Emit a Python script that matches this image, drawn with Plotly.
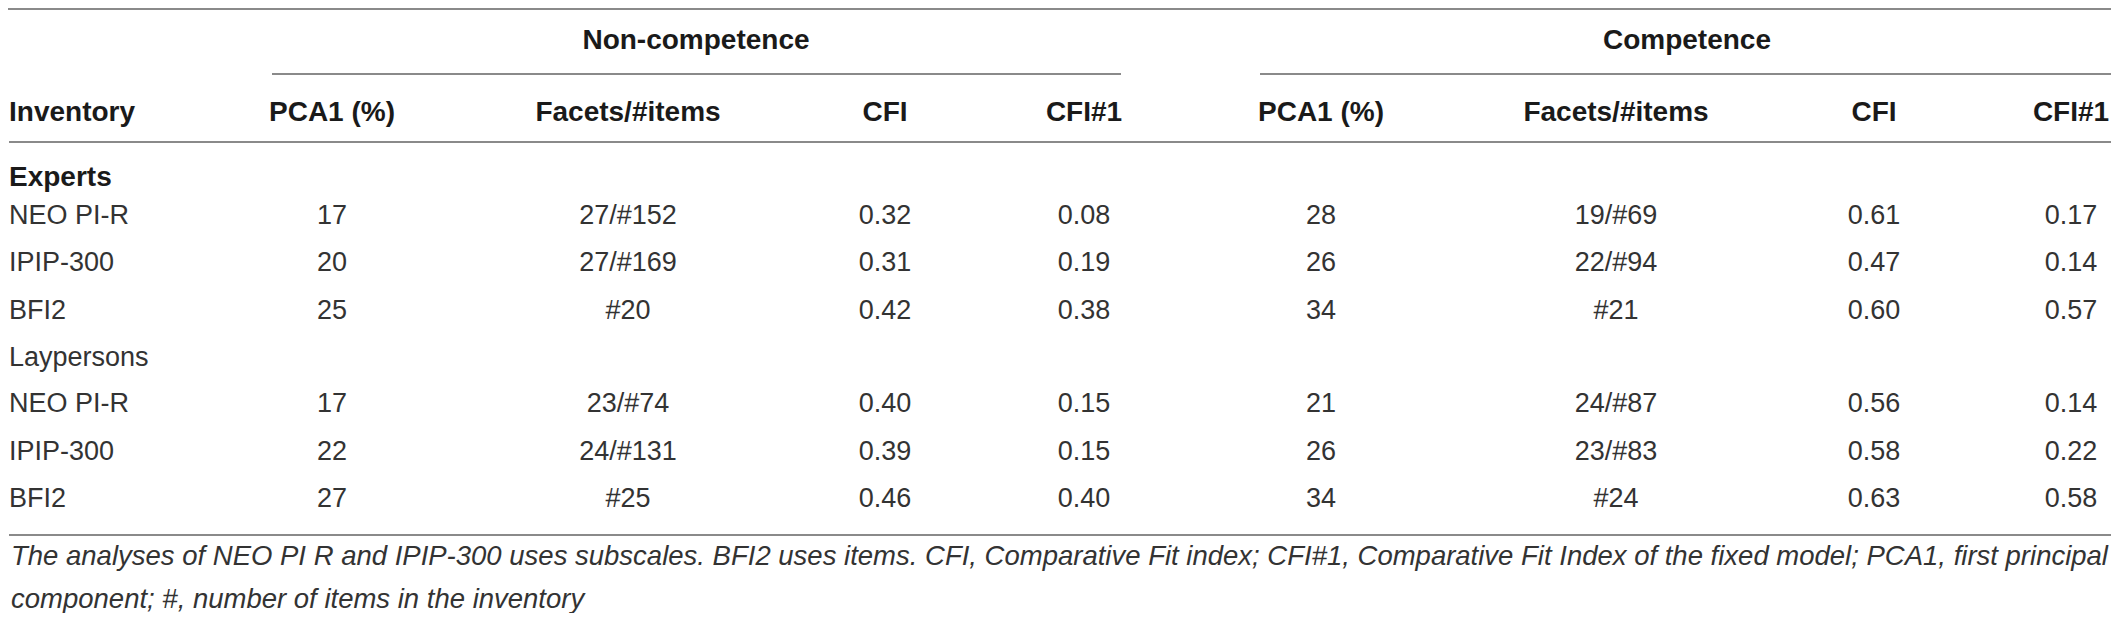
import plotly.graph_objects as go

# table content
groups = ["Experts", "Laypersons"]
inventories = ["NEO PI-R", "IPIP-300", "BFI2"]
col_headers = ["PCA1 (%)", "Facets/#items", "CFI", "CFI#1"]
group_headers = ["Non-competence", "Competence"]

noncomp_pca1 = [17, 20, 25, 17, 22, 27]
noncomp_facets = ["27/#152", "27/#169", "#20", "23/#74", "24/#131", "#25"]
noncomp_cfi = [0.32, 0.31, 0.42, 0.40, 0.39, 0.46]
noncomp_cfi1 = [0.08, 0.19, 0.38, 0.15, 0.15, 0.40]

comp_pca1 = [28, 26, 34, 21, 26, 34]
comp_facets = ["19/#69", "22/#94", "#21", "24/#87", "23/#83", "#24"]
comp_cfi = [0.61, 0.47, 0.60, 0.56, 0.58, 0.63]
comp_cfi1 = [0.17, 0.14, 0.57, 0.14, 0.22, 0.58]

footnote_lines = [
    "The analyses of NEO PI R and IPIP-300 uses subscales. BFI2 uses items. "
    "CFI, Comparative Fit index; CFI#1, Comparative Fit Index of the fixed model; "
    "PCA1, first principal",
    "component; #, number of items in the inventory",
]

# layout, in page pixels (the page body has an 8px margin)
W, H = 2119, 621
PAD = 8
col_x = [332, 628, 885, 1084, 1321, 1616, 1874, 2071]
label_x = 9
group_x = [696, 1687]
group_y = 42
header_y = 114
group_row_y = [179, 359]
data_row_y = [217, 264, 312, 405, 453, 500]
foot_y = [555, 598]

FONT = "Liberation Sans, Arial, sans-serif"
TXT = "#333333"
HDR = "#1a1a1a"
LINE = "#8a8a8a"

fig = go.Figure()


def text_trace(x, y, text, pos, size, color, bold=False):
    font = dict(family=FONT, size=size, color=color)
    if bold:
        font["weight"] = "bold"
    return go.Scatter(x=x, y=y, text=text, mode="text", textposition=pos,
                      textfont=font, cliponaxis=False, hoverinfo="skip")


# row labels
labels = []
label_y = []
for gi, g in enumerate(groups):
    for k, inv in enumerate(inventories):
        labels.append(inv)
        label_y.append(data_row_y[gi * 3 + k])

fig.add_trace(text_trace([label_x] * len(labels), label_y, labels,
                         "middle right", 27, TXT))
fig.add_trace(text_trace([label_x], [group_row_y[0]], [groups[0]],
                         "middle right", 28, HDR, bold=True))
fig.add_trace(text_trace([label_x], [group_row_y[1]], [groups[1]],
                         "middle right", 27, TXT))

# data columns
columns = [
    [str(v) for v in noncomp_pca1],
    noncomp_facets,
    [f"{v:.2f}" for v in noncomp_cfi],
    [f"{v:.2f}" for v in noncomp_cfi1],
    [str(v) for v in comp_pca1],
    comp_facets,
    [f"{v:.2f}" for v in comp_cfi],
    [f"{v:.2f}" for v in comp_cfi1],
]
for cx, vals in zip(col_x, columns):
    fig.add_trace(text_trace([cx] * len(vals), data_row_y, vals,
                             "middle center", 27, TXT))

# headers
fig.add_trace(text_trace([label_x], [header_y], ["Inventory"],
                         "middle right", 28, HDR, bold=True))
fig.add_trace(text_trace(col_x, [header_y] * len(col_x), col_headers * 2,
                         "middle center", 28, HDR, bold=True))
fig.add_trace(text_trace(group_x, [group_y] * 2, group_headers,
                         "middle center", 28, HDR, bold=True))

# rules
rules = [(PAD, W - PAD, 9), (272, 1121, 74), (1260, 2111, 74),
         (label_x, 2111, 142), (label_x, 2111, 535)]
for x0, x1, yy in rules:
    fig.add_shape(type="line", x0=x0, x1=x1, y0=yy, y1=yy, xref="x", yref="y",
                  line=dict(color=LINE, width=2))

for line, fy in zip(footnote_lines, foot_y):
    fig.add_annotation(x=label_x, y=fy, xref="x", yref="y", text=line,
                       showarrow=False, xanchor="left", yanchor="middle", align="left",
                       font=dict(family=FONT, size=27.5, color=TXT, style="italic"))

fig.update_layout(
    width=W - 2 * PAD, height=H - 2 * PAD, margin=dict(l=0, r=0, t=0, b=0),
    paper_bgcolor="white", plot_bgcolor="white", showlegend=False,
    xaxis=dict(range=[PAD, W - PAD], visible=False, fixedrange=True),
    yaxis=dict(range=[H - PAD, PAD], visible=False, fixedrange=True),
)

fig.write_html("out.html")
